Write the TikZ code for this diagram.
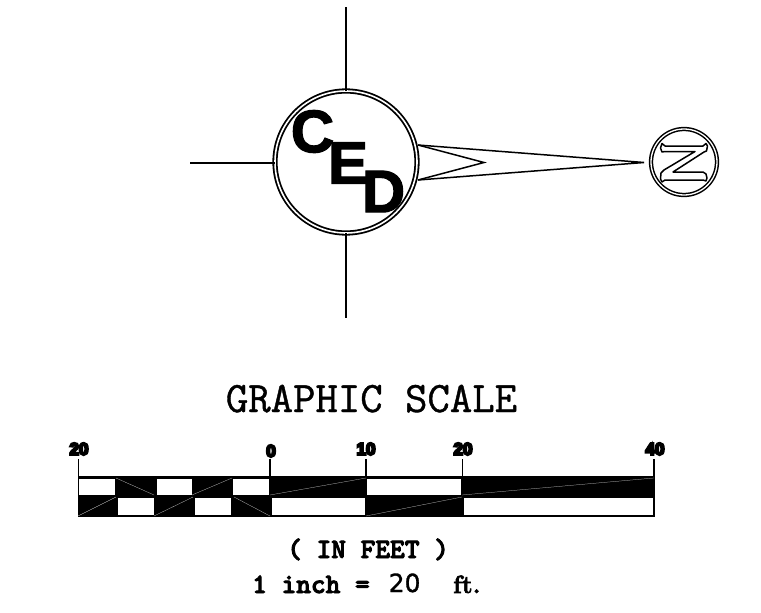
\documentclass[tikz,border=0pt]{standalone}
\usepackage{fontspec}
\usepackage{tikz}
\usetikzlibrary{positioning}
\newfontfamily\cedfont{Liberation Sans}
\newfontfamily\ratiofont{DejaVu Sans}
\newcommand{\heavytext}[2]{\special{pdf:code 2 Tr #1 w}#2\special{pdf:code 0 Tr 1 w}}

\tikzset{
	ring/.style={draw, circle, double, inner sep=0pt, outer sep=0pt},
	cedletter/.style={inner sep=0pt, font=\fontsize{60}{60}\selectfont\cedfont\bfseries},
	wire/.style={line width=1.5pt},
	ticklabel/.style={inner sep=0pt, font=\fontsize{17}{17}\selectfont\cedfont\bfseries},
	hairline/.style={line width=0.25pt, gray!40},
	whitecell/.style={fill=white, draw=none},
	slab/.style={inner sep=0pt, anchor=base west, font=\fontsize{28}{28}\selectfont\ttfamily\bfseries}
}

\begin{document}
\begin{tikzpicture}[x=1pt, y=-1pt]
		\useasboundingbox (0,0) rectangle (761,613);

		\node[ring, line width=1.8pt, double distance=1.6pt, minimum size=142pt]	(CompassRing) at (346,162) {};
		\node[cedletter]	(LetterC) at (312.5,131.5) {\heavytext{1.2}{C}};
		\node[cedletter]	(LetterE) at (348,163) {\heavytext{1.2}{E}};
		\node[cedletter]	(LetterD) at (383.5,191.5) {\heavytext{1.2}{D}};

		\coordinate	(NorthEnd) at (346,7);
		\coordinate	(SouthEnd) at (346,318);
		\coordinate	(WestEnd) at (190,162.8);
		\draw[wire] (CompassRing.north) -- (NorthEnd);
		\draw[wire] (CompassRing.south) -- (SouthEnd);
		\draw[wire] (CompassRing.west |- WestEnd) -- (WestEnd);

		\coordinate	(BarbTop) at (418,145);
		\coordinate	(BarbBottom) at (418,180);
		\coordinate	(BarbNotch) at (484,162.5);
		\coordinate	(BarbTip) at (644,162.5);
		\draw[wire, line join=miter] (BarbTop) -- (BarbTip) -- (BarbBottom);
		\draw[wire] (BarbTop) -- (BarbNotch) -- (BarbBottom);

		\node[ring, line width=1.5pt, double distance=1.3pt, minimum size=66pt]	(NorthRing) at (684,162) {};
		\draw[line width=1.5pt, line join=round]
			(662,143.5) -- (665,146) -- (703,146) -- (706,143.5) -- (707.5,146)
			-- (706.5,151) -- (704,152) -- (673,172) -- (703,172) -- (706,174)
			-- (707,178) -- (706,181) -- (703,180) -- (665,180) -- (662,182)
			-- (660.5,179) -- (661,173) -- (664,170) -- (695,151.5) -- (665,151.5)
			-- (662,152) -- (660.5,148) -- cycle;

		\node[inner sep=0pt, anchor=base, font=\fontsize{43.5}{43.5}\selectfont\ttfamily]	(ScaleTitle) at (371.5,412) {\heavytext{0.4}{GRAPHIC SCALE}};

		% scale bar
		\fill (78,476) rectangle (654.5,517);
		\foreach \xa/\xb in {79/115, 156.5/192, 233/269, 367/461}
			\fill[whitecell] (\xa,478.5) rectangle (\xb,494.5);
		\foreach \xa/\xb in {118/154, 195/231, 271.5/365, 464/653}
			\fill[whitecell] (\xa,497.5) rectangle (\xb,514.5);
		\foreach \xa/\ya/\xb/\yb in {116/478/154/495, 192/495/232/478, 78/516/116/497, 154/516/193/497,
			234/497/270/516, 270/495/366/478, 366/516/462/497, 462/495/654/478}
			\draw[hairline] (\xa,\ya) -- (\xb,\yb);

		\foreach \name/\x/\y/\val in {A/79/449/20, B/271/451/0, C/366/449/10, D/463/449/20, E/655/449/40}
		{
			\node[ticklabel]	(Tick\name) at (\x,\y) {\heavytext{2.2}{\val}};
		}
		\foreach \name/\x in {A/78.5, B/270, C/366, D/462.5, E/654}
			\draw[line width=1.5pt] (\x,459) -- (\x,477);

		\node[slab]	(InFeet) at (287,558) {\heavytext{0.9}{( IN FEET )}};
		\node[slab]	(OneInch) at (252,593) {\heavytext{0.9}{1 inch =}};
		\node[inner sep=0pt, anchor=base west, font=\fontsize{25}{25}\selectfont\ratiofont]	(ScaleValue) at (388.5,592) {\heavytext{0.3}{20}};
		\node[inner sep=0pt, anchor=base west, font=\fontsize{25}{25}\selectfont\rmfamily\bfseries\addfontfeature{FakeStretch=0.85}]	(FeetUnit) at (453,593) {\heavytext{0.6}{ft.}};
	\end{tikzpicture}
\end{document}
